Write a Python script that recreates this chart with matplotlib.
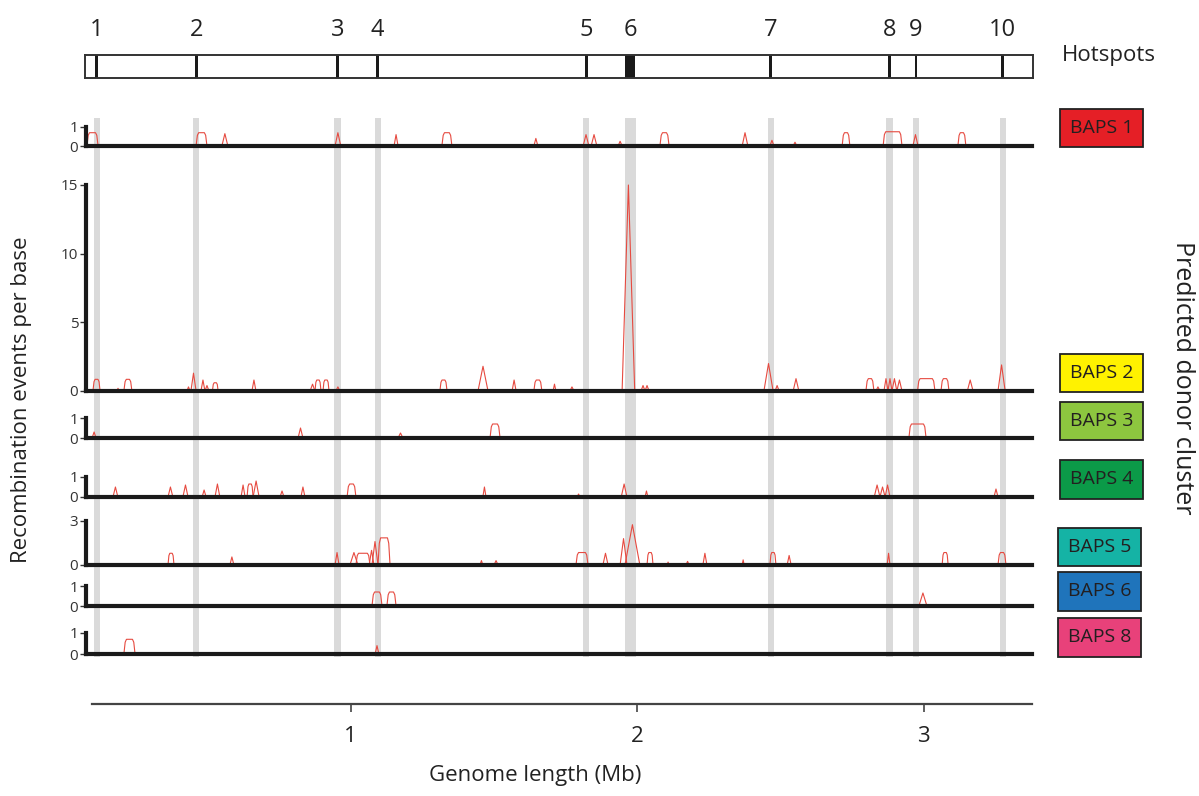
import matplotlib.pyplot as plt
from matplotlib.patches import Rectangle

plt.rcParams['font.family'] = ['Open Sans', 'DejaVu Sans']

W, H = 1199, 796
PX_PER_MB = 286.5
MB_ZERO_PX = 64

TRACE = '#e64a40'
INK = '#1a1a1a'
BAND = '#dadada'

# hotspot locations along the genome (Mb)
hotspot_labels = ['1', '2', '3', '4', '5', '6', '7', '8', '9', '10']
hotspot_pos = [0.114, 0.461, 0.955, 1.095, 1.823, 1.976, 2.467, 2.881, 2.974, 3.277]
hotspot_width = [0.010, 0.010, 0.010, 0.010, 0.010, 0.037, 0.010, 0.010, 0.010, 0.010]
band_width = [0.022, 0.022, 0.022, 0.022, 0.022, 0.038, 0.022, 0.022, 0.022, 0.022]

clusters = ['BAPS 1', 'BAPS 2', 'BAPS 3', 'BAPS 4', 'BAPS 5', 'BAPS 6', 'BAPS 8']
cluster_colors = ['#e51f26', '#fff200', '#8dc63f', '#0b9a48', '#15b3a5', '#1f74bb', '#e8417a']
cluster_ticks = [[0, 1], [0, 5, 10, 15], [0, 1], [0, 1], [0, 3], [0, 1], [0, 1]]

# recombination peaks: (start Mb, end Mb, events per base)
baps1_bumps = [(0.080, 0.119, 0.7), (0.461, 0.499, 0.7), (1.319, 1.354, 0.7), (2.080, 2.112, 0.7),
               (2.716, 2.743, 0.7), (2.859, 2.925, 0.75), (3.120, 3.148, 0.7)]
baps1_spikes = [(0.551, 0.572, 0.65), (0.946, 0.966, 0.7), (1.152, 1.166, 0.6), (1.640, 1.654, 0.4),
                (1.812, 1.832, 0.6), (1.840, 1.860, 0.6), (1.934, 1.948, 0.25), (2.367, 2.387, 0.7),
                (2.464, 2.478, 0.3), (2.545, 2.558, 0.2), (2.963, 2.981, 0.6)]

baps2_bumps = [(0.101, 0.126, 0.85), (0.209, 0.237, 0.85), (0.518, 0.538, 0.6), (0.876, 0.897, 0.8),
               (0.904, 0.925, 0.8), (1.312, 1.337, 0.8), (1.640, 1.668, 0.8), (2.799, 2.827, 0.9),
               (2.979, 3.040, 0.9), (3.061, 3.089, 0.9)]
baps2_spikes = [(0.185, 0.192, 0.2), (0.429, 0.440, 0.3), (0.443, 0.461, 1.3), (0.478, 0.492, 0.8),
                (0.492, 0.506, 0.4), (0.656, 0.670, 0.8), (0.859, 0.876, 0.5), (0.949, 0.963, 0.3),
                (1.445, 1.480, 1.8), (1.564, 1.578, 0.8), (1.707, 1.717, 0.5), (1.766, 1.780, 0.3),
                (1.948, 1.992, 15.0), (2.014, 2.028, 0.4), (2.028, 2.042, 0.4), (2.443, 2.475, 2.0),
                (2.482, 2.496, 0.4), (2.545, 2.565, 0.9), (2.834, 2.848, 0.3), (2.862, 2.876, 0.9),
                (2.876, 2.890, 0.9), (2.890, 2.907, 0.9), (2.907, 2.925, 0.8), (3.153, 3.173, 0.8),
                (3.260, 3.285, 1.9)]

baps3_bumps = [(1.487, 1.522, 0.7), (2.949, 3.009, 0.7)]
baps3_spikes = [(0.098, 0.112, 0.3), (0.817, 0.834, 0.5), (1.166, 1.183, 0.25)]

baps4_bumps = [(0.639, 0.660, 0.65), (0.988, 1.019, 0.65)]
baps4_spikes = [(0.171, 0.188, 0.5), (0.363, 0.380, 0.5), (0.415, 0.433, 0.6), (0.482, 0.496, 0.35),
                (0.527, 0.544, 0.65), (0.618, 0.632, 0.6), (0.660, 0.681, 0.8), (0.754, 0.768, 0.3),
                (0.827, 0.841, 0.5), (1.462, 1.473, 0.5), (1.791, 1.801, 0.15), (1.945, 1.965, 0.65),
                (2.028, 2.038, 0.3), (2.828, 2.848, 0.6), (2.848, 2.866, 0.5), (2.866, 2.883, 0.6),
                (3.246, 3.260, 0.4)]

baps5_bumps = [(0.363, 0.384, 0.8), (1.019, 1.068, 0.8), (1.096, 1.138, 1.85), (1.787, 1.829, 0.85),
               (2.035, 2.056, 0.85), (2.464, 2.485, 0.85), (3.065, 3.086, 0.85), (3.260, 3.288, 0.85)]
baps5_spikes = [(0.579, 0.593, 0.55), (0.946, 0.960, 0.85), (0.998, 1.026, 0.85), (1.065, 1.082, 1.0),
                (1.075, 1.096, 1.6), (1.452, 1.462, 0.3), (1.501, 1.515, 0.3), (1.881, 1.899, 0.8),
                (1.941, 1.965, 1.8), (1.958, 2.010, 2.75), (2.105, 2.112, 0.2), (2.171, 2.182, 0.25),
                (2.230, 2.244, 0.8), (2.367, 2.374, 0.35), (2.524, 2.538, 0.65), (2.873, 2.883, 0.8)]

baps6_bumps = [(1.075, 1.110, 0.7), (1.127, 1.159, 0.7)]
baps6_spikes = [(2.984, 3.012, 0.65)]

baps8_bumps = [(0.209, 0.248, 0.7)]
baps8_spikes = [(1.086, 1.099, 0.4)]

all_bumps = [baps1_bumps, baps2_bumps, baps3_bumps, baps4_bumps, baps5_bumps, baps6_bumps, baps8_bumps]
all_spikes = [baps1_spikes, baps2_spikes, baps3_spikes, baps4_spikes, baps5_spikes, baps6_spikes, baps8_spikes]

genome_ticks = [1, 2, 3]

# panel placement in pixels: (top tick, baseline)
panel_px = [(127, 146), (185, 391), (418, 438), (477, 497), (521, 565), (586, 606), (633, 654)]
legend_px = [(1060, 109, 1143, 147), (1060, 354, 1143, 392), (1060, 402, 1143, 440),
             (1060, 460, 1143, 499), (1058, 528, 1141, 566), (1058, 572, 1141, 611),
             (1058, 618, 1141, 657)]


def box(x0, y0, x1, y1):
    return [x0 / W, 1 - y1 / H, (x1 - x0) / W, (y1 - y0) / H]


def mb(px):
    return (px - MB_ZERO_PX) / PX_PER_MB


def draw_peaks(ax, bumps, spikes):
    for s, e, h in bumps:
        r = min((e - s) * 0.3, 0.009)
        ax.plot([s, s + 0.5 * r, s + r, e - r, e - 0.5 * r, e],
                [0, 0.8 * h, h, h, 0.8 * h, 0],
                color=TRACE, lw=0.8, clip_on=False, zorder=2)
    for s, e, h in spikes:
        ax.plot([s, (s + e) / 2, e], [0, h, 0], color=TRACE, lw=0.8, clip_on=False, zorder=2)


fig = plt.figure(figsize=(W / 100, H / 100), dpi=100)

PX_L, PX_R = 86, 1032

# grey hotspot bands behind all panels
ax_bg = fig.add_axes(box(PX_L, 118, PX_R, 657))
ax_bg.set_xlim(mb(PX_L), mb(PX_R))
ax_bg.set_ylim(0, 1)
for p, w in zip(hotspot_pos, band_width):
    ax_bg.axvspan(p - w / 2, p + w / 2, color=BAND, lw=0)
ax_bg.axis('off')

# recombination panels
for i, (top, base) in enumerate(panel_px):
    ax = fig.add_axes(box(PX_L, top, PX_R, base))
    ax.set_zorder(2)
    ax.patch.set_visible(False)
    ax.set_xlim(mb(PX_L), mb(PX_R))
    ax.set_ylim(0, cluster_ticks[i][-1])
    draw_peaks(ax, all_bumps[i], all_spikes[i])
    for side in ['top', 'right']:
        ax.spines[side].set_visible(False)
    for side in ['left', 'bottom']:
        ax.spines[side].set_linewidth(3)
        ax.spines[side].set_color(INK)
    ax.set_xticks([])
    ax.set_yticks(cluster_ticks[i])
    ax.tick_params(axis='y', length=4, width=1, color='#333333', labelsize=11,
                   labelcolor='#333333', pad=1.5)

    x0, y0, x1, y1 = legend_px[i]
    fig.add_artist(Rectangle((x0 / W, 1 - y1 / H), (x1 - x0) / W, (y1 - y0) / H,
                             transform=fig.transFigure, facecolor=cluster_colors[i],
                             edgecolor='#222222', lw=1.3))
    fig.text((x0 + x1) / 2 / W, 1 - (y0 + y1) / 2 / H, clusters[i], ha='center', va='center',
             fontsize=14, color='#231f20')

# hotspot map
ax_h = fig.add_axes(box(85, 55, 1033, 78))
ax_h.set_xlim(mb(85), mb(1033))
ax_h.set_ylim(0, 1)
for p, w, lbl in zip(hotspot_pos, hotspot_width, hotspot_labels):
    ax_h.axvspan(p - w / 2, p + w / 2, color=INK, lw=0)
    ax_h.annotate(lbl, (p, 1), xytext=(0, 18), textcoords='offset points', ha='center',
                  va='center', fontsize=17, color='#222222', annotation_clip=False)
ax_h.set_xticks([])
ax_h.set_yticks([])
for sp in ax_h.spines.values():
    sp.set_linewidth(1.4)
    sp.set_color('#333333')
fig.text(1062 / W, 1 - 56 / H, 'Hotspots', va='center', fontsize=16, color='#222222')

# genome axis
ax_x = fig.add_axes(box(PX_L, 703, PX_R, 704))
ax_x.set_xlim(mb(PX_L), mb(PX_R))
ax_x.patch.set_visible(False)
for side in ['top', 'right', 'left']:
    ax_x.spines[side].set_visible(False)
ax_x.spines['bottom'].set_linewidth(1.6)
ax_x.spines['bottom'].set_color('#444444')
ax_x.spines['bottom'].set_bounds(mb(92), mb(PX_R))
ax_x.set_yticks([])
ax_x.set_xticks(genome_ticks)
ax_x.set_xticklabels([str(t) for t in genome_ticks])
ax_x.tick_params(axis='x', length=6, width=1.2, color='#444444', labelsize=16,
                 labelcolor='#222222', pad=10)

fig.text(535 / W, 1 - 775 / H, 'Genome length (Mb)', ha='center', va='center', fontsize=16,
         color='#222222')
fig.text(22 / W, 1 - 400 / H, 'Recombination events per base', ha='center', va='center',
         rotation=90, fontsize=16, color='#222222')
fig.text(1183 / W, 1 - 378 / H, 'Predicted donor cluster', ha='center', va='center',
         rotation=-90, fontsize=18, color='#222222')

fig.savefig('out.png', dpi=100)
